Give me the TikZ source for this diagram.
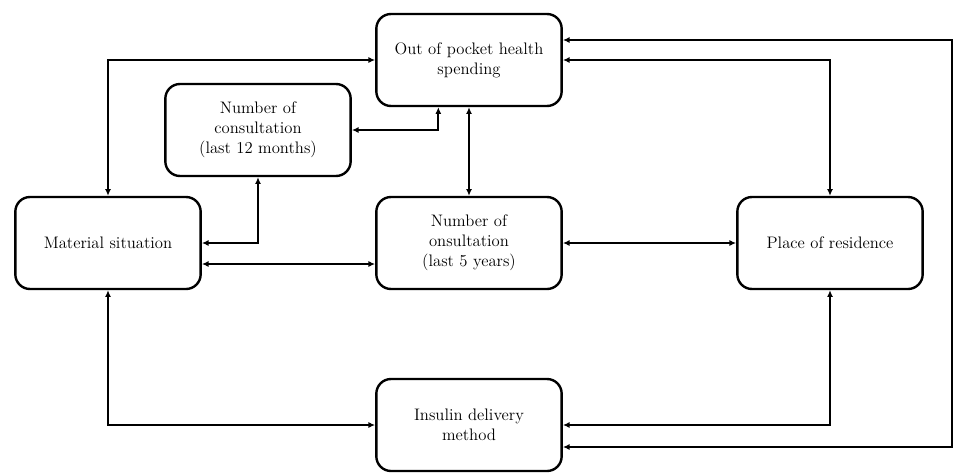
\documentclass[tikz,border=0pt]{standalone}
\usetikzlibrary{arrows.meta}
\tikzset{
  box/.style={draw, line width=1.8pt, rounded corners=11pt, align=center,
    minimum width=139pt, minimum height=69pt,
    font=\fontsize{12.5}{15}\selectfont},
  link/.style={line width=1.3pt, {Latex[length=5pt,width=4.5pt]}-{Latex[length=5pt,width=4.5pt]}}
}
\begin{document}
\begin{tikzpicture}[x=0.75pt,y=-0.75pt]
      \useasboundingbox (0,0) rectangle (954,472);

      \node[box] (oop) at (469,60) {Out of pocket health\\spending};
      \node[box] (nc12) at (258,130) {Number of\\consultation\\(last 12 months)};
      \node[box] (mat) at (108,243) {Material situation};
      \node[box] (nc5) at (469,243) {Number of\\onsultation\\(last 5 years)};
      \node[box] (res) at (830,243) {Place of residence};
      \node[box] (ins) at (469,425) {Insulin delivery\\method};
      \coordinate (far) at (952,240);

      \draw[link] (mat.north) |- (oop.west);
      \draw[link] (nc12.east) -| ([xshift=-23pt]oop.south);
      \draw[link] (oop) -- (nc5);
      \draw[link] (oop.east) -| (res.north);
      \draw[link] ([yshift=15pt]oop.east) -| (far) |- ([yshift=-16.5pt]ins.east);
      \draw[link] (nc12.south) |- (mat.east);
      \draw[link] ([yshift=-15.75pt]mat.east) -- ([yshift=-15.75pt]nc5.west);
      \draw[link] (nc5) -- (res);
      \draw[link] (mat.south) |- (ins.west);
      \draw[link] (res.south) |- (ins.east);
\end{tikzpicture}
\end{document}
